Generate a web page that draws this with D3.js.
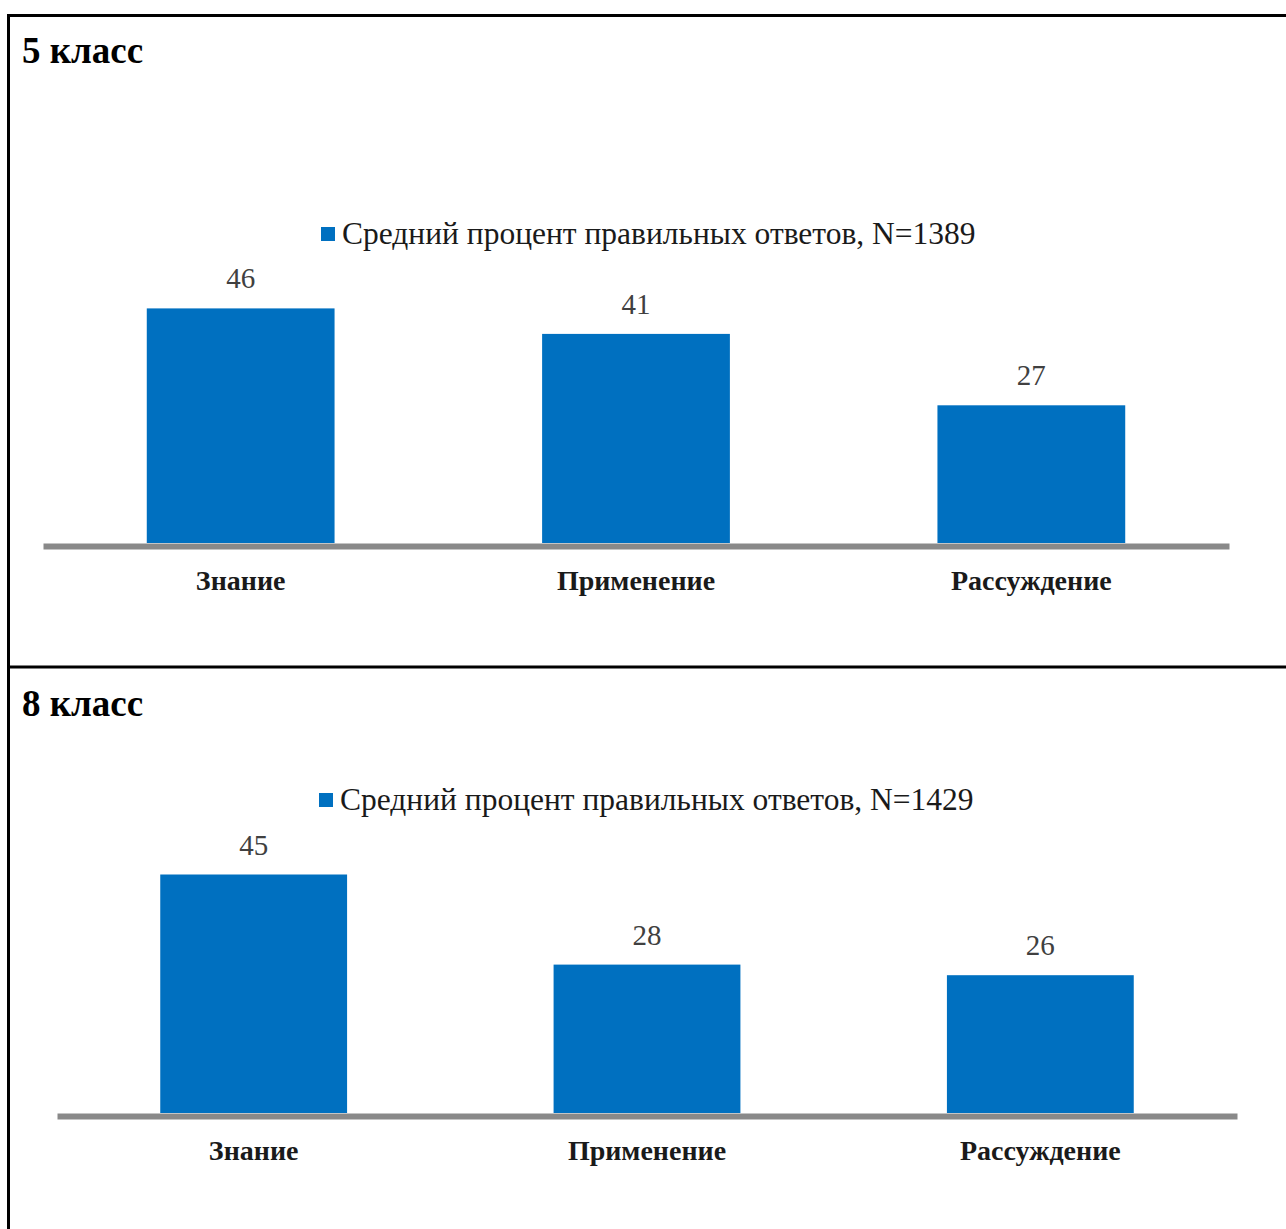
<!DOCTYPE html>
<html>
<head>
<meta charset="utf-8">
<script src="https://cdn.jsdelivr.net/npm/d3@7"></script>
<style>
  body { margin: 0; background: #fff; }
  svg { display: block; }
</style>
</head>
<body>
<div id="chart"></div>
<script>
const categories = ['Знание', 'Применение', 'Рассуждение'];
const grades = ['5 класс', '8 класс'];
const values5 = [46, 41, 27];
const values8 = [45, 28, 26];
const legendLabels = [
  'Средний процент правильных ответов, N=1389',
  'Средний процент правильных ответов, N=1429'
];

const width = 1286;
const height = 1229;
const serif = '"Liberation Serif", "Times New Roman", serif';

const svg = d3.select('#chart')
  .append('svg')
  .attr('width', width)
  .attr('height', height);

// table frame
svg.append('line')
  .attr('x1', 7).attr('x2', width).attr('y1', 15.5).attr('y2', 15.5)
  .attr('stroke', '#000').attr('stroke-width', 3);
svg.append('line')
  .attr('x1', 7).attr('x2', width).attr('y1', 667).attr('y2', 667)
  .attr('stroke', '#000').attr('stroke-width', 3);
svg.append('line')
  .attr('x1', 8.5).attr('x2', 8.5).attr('y1', 14).attr('y2', height)
  .attr('stroke', '#000').attr('stroke-width', 3);

// layout for each panel
const panels = [
  { title: grades[0], values: values5, legend: legendLabels[0],
    titleY: 63, legendX: 321, legendY: 227, x0: 43, x1: 1229, base: 543, pxPerUnit: 5.1, catY: 590 },
  { title: grades[1], values: values8, legend: legendLabels[1],
    titleY: 716, legendX: 319, legendY: 793, x0: 57, x1: 1237, base: 1113, pxPerUnit: 5.3, catY: 1160 }
];

panels.forEach((p) => drawPanel(p));

function drawPanel(p) {
  const g = svg.append('g');

  g.append('text')
    .attr('x', 22)
    .attr('y', p.titleY)
    .attr('font-family', serif)
    .attr('font-weight', 'bold')
    .attr('font-size', 37)
    .attr('fill', '#000')
    .text(p.title);

  // legend
  g.append('rect')
    .attr('x', p.legendX)
    .attr('y', p.legendY)
    .attr('width', 14)
    .attr('height', 14)
    .attr('fill', '#0070C0');
  g.append('text')
    .attr('x', p.legendX + 21)
    .attr('y', p.legendY + 17)
    .attr('font-family', serif)
    .attr('font-size', 31.5)
    .attr('fill', '#1a1a1a')
    .text(p.legend);

  const xScale = d3.scaleBand()
    .domain(categories)
    .range([p.x0, p.x1])
    .paddingInner(0.525)
    .paddingOuter(0.2625);

  const yScale = d3.scaleLinear()
    .domain([0, 50])
    .range([p.base, p.base - 50 * p.pxPerUnit]);

  const rows = categories.map((c, i) => ({ cat: c, value: p.values[i] }));

  g.selectAll('rect.bar')
    .data(rows)
    .join('rect')
    .attr('class', 'bar')
    .attr('x', (d) => xScale(d.cat))
    .attr('y', (d) => yScale(d.value))
    .attr('width', xScale.bandwidth())
    .attr('height', (d) => yScale(0) - yScale(d.value))
    .attr('fill', '#0070C0');

  // axis line
  const xAxis = d3.axisBottom(xScale).tickSize(0).tickPadding(0).tickFormat('');
  const axisG = g.append('g')
    .attr('transform', `translate(0, ${p.base + 3})`)
    .call(xAxis);
  axisG.select('.domain')
    .attr('stroke', '#898989')
    .attr('stroke-width', 6);

  g.selectAll('text.value')
    .data(rows)
    .join('text')
    .attr('class', 'value')
    .attr('x', (d) => xScale(d.cat) + xScale.bandwidth() / 2)
    .attr('y', (d) => yScale(d.value) - 20)
    .attr('text-anchor', 'middle')
    .attr('font-family', serif)
    .attr('font-size', 29)
    .attr('fill', '#404040')
    .text((d) => d.value);

  g.selectAll('text.cat')
    .data(rows)
    .join('text')
    .attr('class', 'cat')
    .attr('x', (d) => xScale(d.cat) + xScale.bandwidth() / 2)
    .attr('y', p.catY)
    .attr('text-anchor', 'middle')
    .attr('font-family', serif)
    .attr('font-weight', 'bold')
    .attr('font-size', 28)
    .attr('fill', '#1a1a1a')
    .text((d) => d.cat);
}
</script>
</body>
</html>
